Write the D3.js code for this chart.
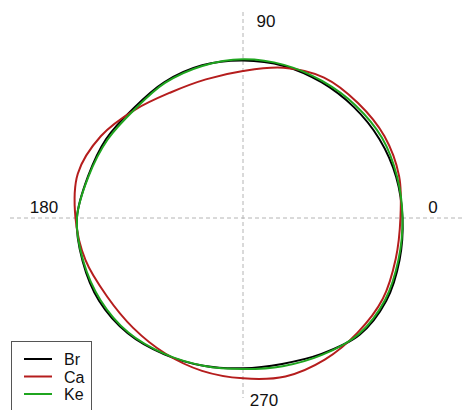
<!DOCTYPE html>
<html>
<head>
<meta charset="utf-8">
<script src="https://cdn.jsdelivr.net/npm/d3@7"></script>
<style>
  html, body { margin: 0; padding: 0; background: #fff; }
  svg { display: block; font-family: "Liberation Sans", Arial, sans-serif; }
</style>
</head>
<body>
<svg id="chart" width="464" height="410"></svg>
<script>
// Direction (degrees, counter-clockwise from east) at which each radius is sampled
const angles = [0, 15, 30, 45, 60, 75, 90, 105, 120, 135, 150, 165,
                180, 195, 210, 225, 240, 255, 270, 285, 300, 315, 330, 345];

// Normalised radius per direction for each group
const br = [0.997, 0.991, 0.985, 0.980, 0.980, 0.984, 0.984, 0.988, 0.981, 0.969, 0.988, 1.003,
            1.038, 1.038, 1.038, 1.019, 0.984, 0.956, 0.939, 0.944, 0.981, 1.031, 1.034, 1.013];
const ca = [0.984, 1.010, 1.021, 1.016, 1.013, 0.972, 0.919, 0.897, 0.906, 0.956, 1.025, 1.069,
            1.047, 1.019, 0.981, 0.971, 0.976, 0.989, 1.002, 1.025, 1.022, 1.013, 1.009, 0.988];
const ke = [0.997, 0.997, 1.003, 0.995, 0.989, 0.991, 0.992, 0.984, 0.975, 0.959, 0.978, 1.000,
            1.038, 1.034, 1.028, 1.013, 0.981, 0.956, 0.944, 0.959, 0.988, 1.025, 1.025, 1.006];

const seriesNames = ["Br", "Ca", "Ke"];
const seriesColors = ["#000000", "#b51d1d", "#1fa51f"];
const axisLabels = ["0", "90", "180", "270"];

const svg = d3.select("#chart");
const cx = 243, cy = 218;

const r = d3.scaleLinear().domain([0, 1]).range([0, 160]);
const toRad = d => (90 - d) * Math.PI / 180;   // lineRadial measures clockwise from north

const g = svg.append("g").attr("transform", `translate(${cx},${cy})`);

// Dashed reference axes
g.append("line")
  .attr("x1", 10 - cx).attr("x2", 462 - cx).attr("y1", 0).attr("y2", 0)
  .attr("stroke", "#b4b4b4").attr("stroke-width", 1).attr("stroke-dasharray", "4,3");
g.append("line")
  .attr("x1", 0).attr("x2", 0).attr("y1", 12 - cy).attr("y2", 398 - cy)
  .attr("stroke", "#b4b4b4").attr("stroke-width", 1).attr("stroke-dasharray", "4,3");

// Direction labels
const labelPos = {
  "0":   { x: 190,  y: -5,  anchor: "middle" },
  "90":  { x: 23,   y: -191, anchor: "middle" },
  "180": { x: -199, y: -5,  anchor: "middle" },
  "270": { x: 21,   y: 188, anchor: "middle" }
};
axisLabels.forEach(t => {
  const p = labelPos[t];
  g.append("text")
    .attr("x", p.x).attr("y", p.y)
    .attr("text-anchor", p.anchor)
    .attr("font-size", 17)
    .attr("fill", "#111")
    .text(t);
});

// Closed radial outlines
const line = d3.lineRadial()
  .angle(d => toRad(d.a))
  .radius(d => r(d.v))
  .curve(d3.curveCatmullRomClosed.alpha(0.5));

[br, ca, ke].forEach((vals, i) => {
  const pts = angles.map((a, k) => ({ a: a, v: vals[k] }));
  g.append("path")
    .datum(pts)
    .attr("d", line)
    .attr("fill", "none")
    .attr("stroke", seriesColors[i])
    .attr("stroke-width", 2);
});

// Legend
const lg = svg.append("g").attr("transform", "translate(11,341)");
lg.append("rect")
  .attr("x", 0.5).attr("y", 0.5).attr("width", 80).attr("height", 75)
  .attr("fill", "#fff").attr("stroke", "#555").attr("stroke-width", 1);
seriesNames.forEach((n, i) => {
  const y = 18 + i * 17.5;
  lg.append("line")
    .attr("x1", 13).attr("x2", 41).attr("y1", y).attr("y2", y)
    .attr("stroke", seriesColors[i]).attr("stroke-width", 2);
  lg.append("text")
    .attr("x", 53).attr("y", y + 6)
    .attr("font-size", 16)
    .attr("fill", "#111")
    .text(n);
});
</script>
</body>
</html>
